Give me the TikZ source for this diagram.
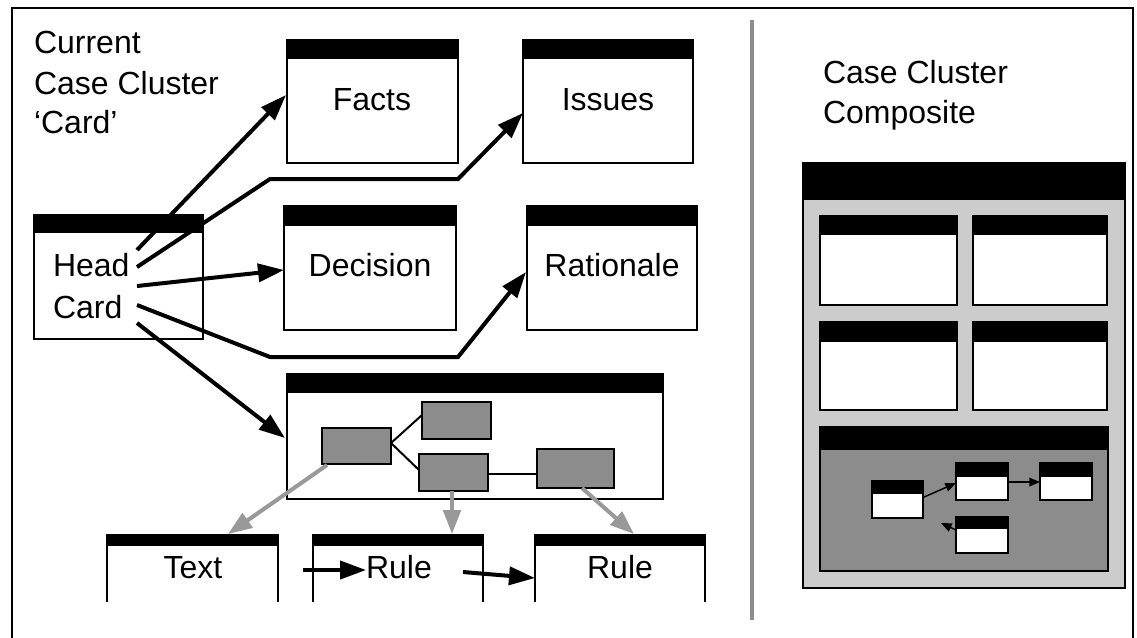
\documentclass[tikz,border=0pt]{standalone}
\usepackage{fontspec}
\setmainfont{Liberation Sans}
\usetikzlibrary{arrows.meta,calc}
\tikzset{
  card/.style n args={3}{draw, line width=1.3pt, fill=white, inner sep=0pt, outer sep=0pt,
    minimum width=#1*0.75pt, minimum height=#2*0.75pt,
    path picture={\fill[black] (path picture bounding box.north west) rectangle ([yshift=-#3*0.75pt]path picture bounding box.north east);}},
  opencard/.style n args={3}{inner sep=0pt, outer sep=0pt,
    minimum width=#1*0.75pt, minimum height=#2*0.75pt,
    path picture={\fill[black] (path picture bounding box.north west) rectangle ([yshift=-#3*0.75pt]path picture bounding box.north east);}},
  tbox/.style n args={2}{draw, line width=1.5pt, fill=black!45, inner sep=0pt, outer sep=0pt,
    minimum width=#1*0.75pt, minimum height=#2*0.75pt},
  lbl/.style={inner sep=0pt, outer sep=0pt, font=\fontsize{24}{28}\selectfont},
  arr/.style={line width=3pt, -{Triangle[length=19.5pt,width=13.5pt]}},
  garr/.style={line width=3pt, draw=black!40, -{Triangle[length=18pt,width=13pt,fill=black!40]}},
  miniarr/.style={line width=1.1pt, -{Triangle[length=8pt,width=6.5pt]}},
  tline/.style={line width=1.5pt},
}
\begin{document}
\begin{tikzpicture}[x=0.75pt,y=-0.75pt]
\useasboundingbox (0,0) rectangle (1137,637);
% frame and divider
\draw[line width=1.5pt] (12,640) -- (12,8) -- (1133,8) -- (1133,640);
\draw[line width=2.5pt, draw=black!45] (752,20) -- (752,620);

% left title
\node[lbl, anchor=base west] (t1) at (34,53) {Current};
\node[lbl, anchor=base west] (t2) at (34,94) {Case Cluster};
\node[lbl, anchor=base west] (t3) at (34,133) {‘Card’};

% cards
\node[card={171}{123}{19}] (facts) at (372.5,101.5) {};
\node[card={170}{123}{19}] (issues) at (608,101.5) {};
\node[card={172}{124}{20}] (decision) at (370,268) {};
\node[card={170}{124}{20}] (rationale) at (612,268) {};
\node[card={169}{124}{18}] (head) at (118.5,277) {};
\node[card={376}{125}{19}] (tree) at (475,436.5) {};

\node[lbl, anchor=base] (tfacts) at (372,110) {Facts};
\node[lbl, anchor=base] (tissues) at (608,110) {Issues};
\node[lbl, anchor=base] (tdecision) at (370,276) {Decision};
\node[lbl, anchor=base] (trationale) at (612,276) {Rationale};
\node[lbl, anchor=base west] (thead) at (53,276) {Head};
\node[lbl, anchor=base west] (tcard) at (53,318) {Card};

% tree boxes
\node[tbox={69}{36}] (ta) at (356.5,446) {};
\node[tbox={69}{37}] (tb) at (456.5,420.5) {};
\node[tbox={69}{37}] (tc) at (453.5,472.5) {};
\node[tbox={77}{39}] (td) at (575.5,468.5) {};
\draw[tline] ($(ta.east)+(0,-3)$) -- ($(tb.west)+(0,-5.5)$);
\draw[tline] ($(ta.east)+(0,-3)$) -- ($(tc.west)+(0,-2.5)$);
\draw[tline] ($(tc.east)+(0,1.5)$) -- ($(td.west)+(0,5.5)$);

% bottom open cards
\node[opencard={171}{68}{12}] (text) at (192.5,568) {};
\node[opencard={170}{68}{12}] (rule1) at (398,568) {};
\node[opencard={170}{68}{12}] (rule2) at (620,568) {};
\foreach \c in {text,rule1,rule2}{
  \draw[line width=1.3pt] (\c.north west) -- (\c.south west) (\c.north east) -- (\c.south east);
}
\node[lbl, anchor=base] (ttext) at (193,578) {Text};
\node[lbl, anchor=base] (trule1) at (399,578) {Rule};
\node[lbl, anchor=base] (trule2) at (620,578) {Rule};

% head card arrows
\coordinate (h1) at (137,250);
\coordinate (h2) at (137,267);
\coordinate (h3) at (137,286);
\coordinate (h4) at (137,305);
\coordinate (h5) at (137,323);
\draw[arr] (h1) -- ($(facts.west)+(-1,-6.5)$);
\draw[arr] (h2) -- ++(133,-88) -- ++(188,0) -- ($(issues.west)+(0,11.5)$);
\draw[arr] (h3) -- ($(decision.west)+(0,2)$);
\draw[arr] (h4) -- ++(133,52) -- ++(188,0) -- ($(rationale.west)+(-1,4)$);
\draw[arr] (h5) -- ($(tree.west)+(-2,1.5)$);

% gray arrows
\draw[garr] ($(ta.south west)+(5,1)$) -- ($(text.north west)+(121,0)$);
\draw[garr] ($(tc.south west)+(33,0)$) -- ($(rule1.north west)+(139,0)$);
\draw[garr] ($(td.south west)+(45,0)$) -- ($(rule2.north west)+(99,0)$);

% bottom black arrows
\coordinate (b1) at (303,570);
\coordinate (b2) at (463,572);
\draw[arr] (b1) -- (trule1.west |- b1);
\draw[arr] (b2) -- ($(rule2.west)+(0,10)$);

% right title
\node[lbl, anchor=base west] (r1) at (823,83) {Case Cluster};
\node[lbl, anchor=base west] (r2) at (823,123) {Composite};

% composite
\node[card={322}{425}{37}, fill=black!20, line width=1.5pt] (comp) at (964,375.5) {};
\node[card={137}{89}{19}, line width=1.5pt] (c1) at (888.5,260.5) {};
\node[card={134}{89}{19}, line width=1.5pt] (c2) at (1040,260.5) {};
\node[card={137}{88}{20}, line width=1.5pt] (c3) at (888.5,366) {};
\node[card={134}{88}{20}, line width=1.5pt] (c4) at (1040,366) {};
\node[card={288}{144}{23}, fill=black!45, line width=1.5pt] (c5) at (964,499) {};
\node[card={51}{37}{13}, line width=1.3pt] (m1) at (897.5,499.5) {};
\node[card={52}{37}{14}, line width=1.3pt] (m2) at (982,481.5) {};
\node[card={52}{37}{14}, line width=1.3pt] (m3) at (1066,481.5) {};
\node[card={52}{36}{12}, line width=1.3pt] (m4) at (982,535) {};
\draw[miniarr] ($(m1.east)+(0,-2)$) -- ($(m2.west)+(0,1.5)$);
\draw[miniarr] ($(m2.east)+(0,0.5)$) -- ($(m3.west)+(0,0.5)$);
\draw[miniarr] ($(m4.west)+(0,-5)$) -- ++(-15,-7);
\end{tikzpicture}
\end{document}
